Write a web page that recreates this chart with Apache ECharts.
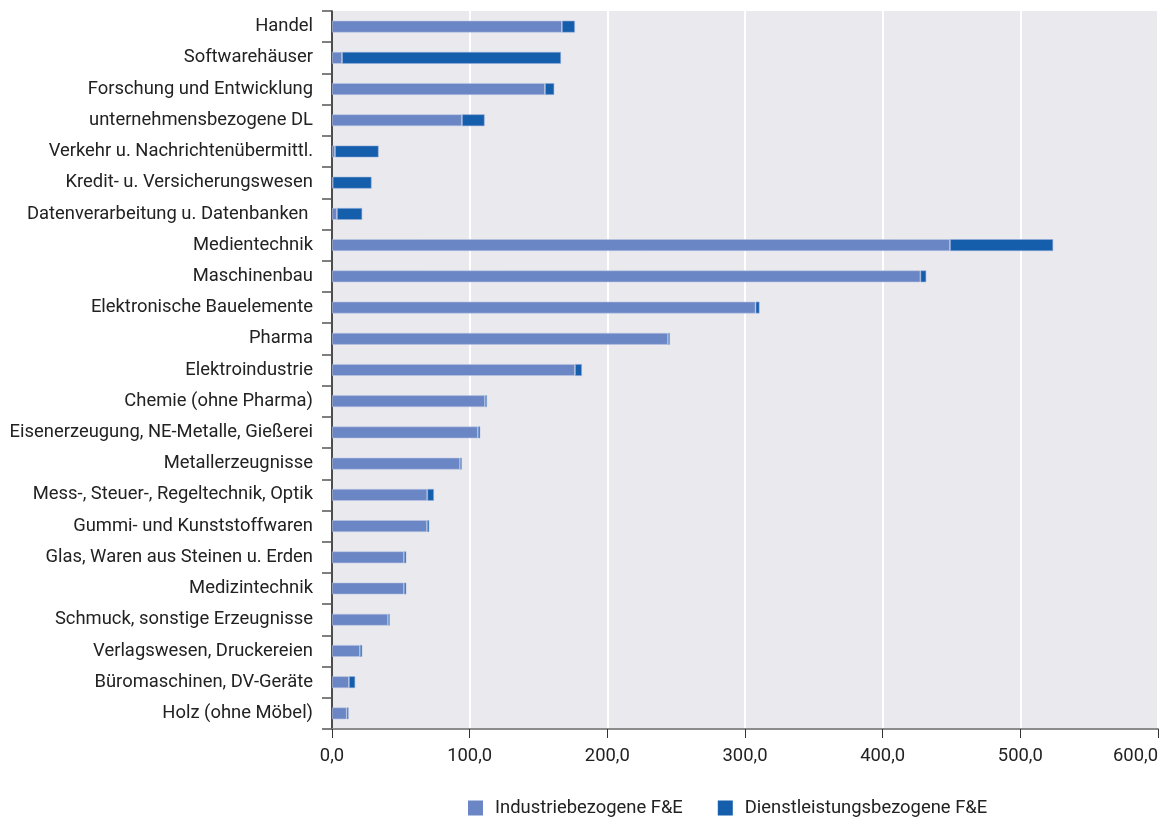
<!DOCTYPE html>
<html>
<head>
<meta charset="utf-8">
<script src="https://cdn.jsdelivr.net/npm/echarts@6/dist/echarts.min.js"></script>
<style>
  html, body { margin: 0; padding: 0; background: #fff; }
  #chart { width: 1161px; height: 820px; }
</style>
</head>
<body>
<div id="chart"></div>
<script>
// Branchen (von oben nach unten)
const categories = [
  'Handel',
  'Softwarehäuser',
  'Forschung und Entwicklung',
  'unternehmensbezogene DL',
  'Verkehr u. Nachrichtenübermittl.',
  'Kredit- u. Versicherungswesen',
  'Datenverarbeitung u. Datenbanken ',
  'Medientechnik',
  'Maschinenbau',
  'Elektronische Bauelemente',
  'Pharma',
  'Elektroindustrie',
  'Chemie (ohne Pharma)',
  'Eisenerzeugung, NE-Metalle, Gießerei',
  'Metallerzeugnisse',
  'Mess-, Steuer-, Regeltechnik, Optik',
  'Gummi- und Kunststoffwaren',
  'Glas, Waren aus Steinen u. Erden',
  'Medizintechnik',
  'Schmuck, sonstige Erzeugnisse',
  'Verlagswesen, Druckereien',
  'Büromaschinen, DV-Geräte',
  'Holz (ohne Möbel)'
];

// Industriebezogene F&E
const industrie = [
  167.0, 7.3, 154.7, 94.4, 2.2, 0.5, 3.6,
  448.9, 427.4, 307.7, 244.1, 176.5, 111.1, 106.0,
  93.0, 69.2, 69.0, 52.3, 52.3, 40.7, 20.3, 12.3, 10.7
];

// Dienstleistungsbezogene F&E
const dienstleistung = [
  9.5, 159.1, 6.8, 16.5, 31.7, 28.3, 18.4,
  75.0, 4.3, 2.9, 1.4, 5.1, 1.5, 1.7,
  1.4, 4.9, 1.7, 1.7, 1.7, 1.4, 1.7, 4.6, 1.4
];

const seriesNames = ['Industriebezogene F&E', 'Dienstleistungsbezogene F&E'];
const xTicks = { min: 0, max: 600, interval: 100 };

const FONT = '"Roboto", "Liberation Sans", sans-serif';
const COL_IND = '#6B86C4';
const COL_DL = '#155EAC';

const chart = echarts.init(document.getElementById('chart'), null, { renderer: 'canvas' });

chart.setOption({
  animation: false,
  textStyle: { fontFamily: FONT },
  grid: {
    left: 332, right: 3, top: 11, bottom: 91,
    outerBoundsMode: 'none',
    containLabel: false,
    show: true, backgroundColor: '#EAEAEE', borderWidth: 0
  },
  legend: {
    left: 468, top: 799, padding: 0,
    itemWidth: 15, itemHeight: 15, itemGap: 35,
    icon: 'rect',
    itemStyle: { borderWidth: 0 },
    textStyle: { fontFamily: FONT, fontSize: 18.4, color: '#222', padding: [0, 0, 0, 7] },
    data: seriesNames
  },
  xAxis: {
    type: 'value',
    min: xTicks.min, max: xTicks.max, interval: xTicks.interval,
    axisLine: { show: true, lineStyle: { color: '#8c8c8c', width: 2 } },
    axisTick: { show: true, length: 9, lineStyle: { color: '#333', width: 1 } },
    splitLine: { show: true, lineStyle: { color: '#ffffff', width: 2 } },
    axisLabel: {
      margin: 18,
      alignMaxLabel: 'right',
      fontFamily: FONT, fontSize: 18.4, color: '#222',
      formatter: v => v.toFixed(1).replace('.', ',')
    }
  },
  yAxis: {
    type: 'category',
    inverse: true,
    data: categories,
    axisLine: { show: true, lineStyle: { color: '#111', width: 1.5 } },
    axisTick: { show: true, length: 10, lineStyle: { color: '#555', width: 1.5 } },
    axisLabel: { margin: 19, fontFamily: FONT, fontSize: 18.4, color: '#222' }
  },
  series: [
    {
      name: seriesNames[0], type: 'bar', stack: 'fe',
      data: industrie, barWidth: 12,
      itemStyle: { color: COL_IND, borderColor: 'rgba(190,200,230,0.7)', borderWidth: 0.8 }
    },
    {
      name: seriesNames[1], type: 'bar', stack: 'fe',
      data: dienstleistung, barWidth: 12,
      itemStyle: { color: COL_DL, borderColor: 'rgba(150,175,220,0.7)', borderWidth: 0.8 }
    }
  ]
});
</script>
</body>
</html>
